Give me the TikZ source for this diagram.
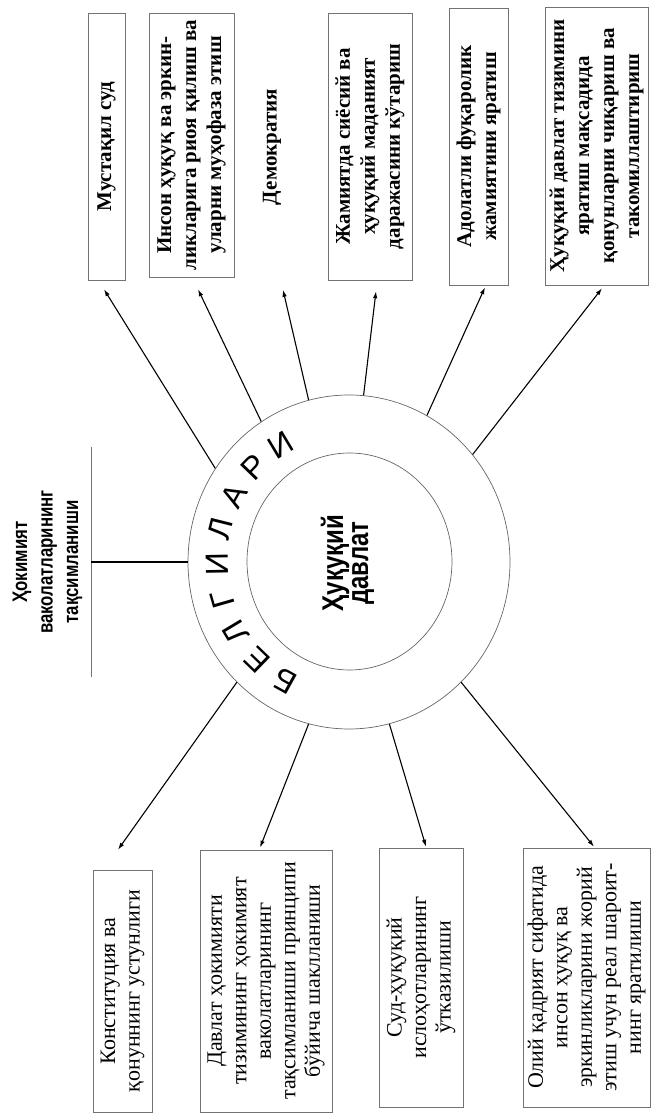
\documentclass[tikz,border=0pt]{standalone}
\usepackage{fontspec}
\setmainfont{Liberation Serif}
\newfontfamily\ringfont{Liberation Sans}
\newfontfamily\condbold[FakeStretch=0.8]{Liberation Sans Bold}
\usetikzlibrary{shapes.geometric,arrows.meta,calc}
\tikzset{
  box/.style={draw=black!55, line width=0.6pt, rotate=90, align=center, inner sep=1pt},
  topbox/.style={box, font=\bfseries\fontsize{21}{25}\selectfont},
  botbox/.style={box, font=\fontsize{22}{24.5}\selectfont},
  arr/.style={line width=1.1pt, -{Latex[length=7pt,width=4.5pt]}},
  ring/.style={draw=black!60, line width=0.7pt, ellipse, inner sep=0pt},
  ringletter/.style={font=\ringfont\fontsize{32}{32}\selectfont, inner sep=0pt},
}
\begin{document}
\begin{tikzpicture}[x=1pt,y=1pt]
\useasboundingbox (0,0) rectangle (656,1117);
% circles
\node[ring, minimum width=322, minimum height=334] (R) at (349,555) {};
\node[ring, minimum width=205, minimum height=217] (I) at (349.5,555.5) {};
\node[font=\condbold\fontsize{30}{25}\selectfont, rotate=90, align=center] (T) at (347.5,554) {Ҳуқуқий\\давлат};
% ring letters
\foreach \l [count=\i] in {Б,Е,Л,Г,И,Л,А,Р,И} {
  \pgfmathsetmacro\ang{241-15*(\i-1)}
  \node[ringletter, rotate=\ang-90] (L\i) at ($(R.center)+(\ang:132 and 136)$) {\l};
}
% top boxes
\node[topbox, minimum width=267, minimum height=37] (B1) at (106.5,970.5) {Мустақил суд};
\node[topbox, minimum width=264, minimum height=85] (B2) at (191.5,972) {Инсон ҳуқуқ ва эркин-\\ликларига риоя қилиш ва\\уларни муҳофаза этиш};
\node[topbox, draw=none, minimum width=267, minimum height=40] (B3) at (272,970) {Демократия};
\node[topbox, minimum width=267, minimum height=84] (B4) at (370,970.5) {Жамиятда сиёсий ва\\ҳуқуқий маданият\\даражасини кўтариш};
\node[topbox, minimum width=277, minimum height=59] (B5) at (478.5,970.5) {Адолатли фуқаролик\\жамиятини яратиш};
\node[topbox, minimum width=278, minimum height=103] (B6) at (596.5,971) {Ҳуқуқий давлат тизимини\\яратиш мақсадида\\қонунларни чиқариш ва\\такомиллаштириш};
% bottom boxes
\node[botbox, minimum width=242, minimum height=59] (C1) at (122.5,126) {Конституция ва\\қонуннинг устунлиги};
\node[botbox, minimum width=262, minimum height=132] (C2) at (266,136) {Давлат ҳокимияти\\тизимининг ҳокимият\\ваколатларининг\\тақсимланиши принципи\\бўйича шаклланиши};
\node[botbox, minimum width=259, minimum height=84] (C3) at (421,139.5) {Суд-ҳуқуқий\\ислоҳотларининг\\ўтказилиши};
\node[botbox, minimum width=259, minimum height=127] (C4) at (586.5,139.5) {Олий қадрият сифатида\\инсон ҳуқуқ ва\\эркинликларини жорий\\этиш учун реал шароит-\\нинг яратилиши};
% left block
\node[rotate=90, align=center, font=\condbold\fontsize{21}{25.5}\selectfont, minimum width=230, minimum height=87, inner sep=0pt] (H) at (47.5,555) {Ҳокимият\\ваколатларининг\\тақсимланиши};
\draw[black!55, line width=0.6pt] (H.south west) -- (H.south east);
\draw[line width=1.1pt] (R.180) -- (H.south);
% arrows up
\draw[arr] (R.145) -- ([shift={(-2.5,-9)}]B1.west);
\draw[arr] (R.122) -- ([shift={(6.5,-12)}]B2.west);
\draw[arr] (R.104) -- ([shift={(11,-9)}]B3.west);
\draw[arr] (R.85) -- ([shift={(6,-11)}]B4.west);
\draw[arr] (R.62) -- ([shift={(6.5,-2)}]B5.west);
\draw[arr] (R.41) -- ([shift={(5.5,-3)}]B6.west);
% arrows down
\draw[arr] (R.227) -- ([shift={(-4.5,20)}]C1.east);
\draw[arr] (R.256) -- ([shift={(-6,2)}]C2.east);
\draw[arr] (R.284) -- ([shift={(5,1)}]C3.east);
\draw[arr] (R.313) -- ([shift={(7.5,1)}]C4.east);
\end{tikzpicture}
\end{document}
